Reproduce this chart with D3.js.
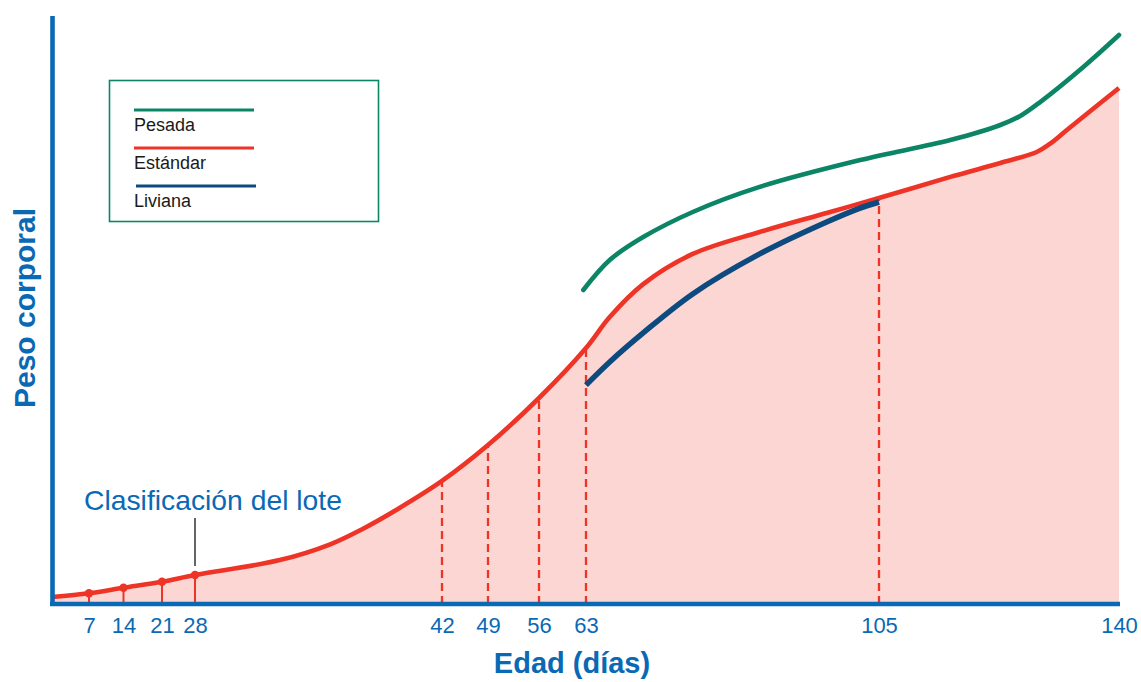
<!DOCTYPE html>
<html>
<head>
<meta charset="utf-8">
<script src="https://cdn.jsdelivr.net/npm/d3@7"></script>
<style>
  html, body { margin: 0; padding: 0; background: #fff; }
  svg { display: block; font-family: "Liberation Sans", Arial, Helvetica, sans-serif; }
</style>
</head>
<body>
<svg id="chart" width="1141" height="682"></svg>
<script>
// ---------- data ----------
const tickDays   = [7, 14, 21, 28, 42, 49, 56, 63, 105, 140];
const tickLabels = ["7", "14", "21", "28", "42", "49", "56", "63", "105", "140"];
const gradingDays = [7, 14, 21, 28];          // solid markers (clasificación)
const dashedDays  = [42, 49, 56, 63, 105];    // dashed guides

const seriesNames = ["Pesada", "Estándar", "Liviana"];

// Estándar (standard) body weight, g (estimated)
const standardDays   = [0, 7, 14, 21, 28, 32.8, 35.7, 37.5, 39.5, 42, 49, 56, 63, 66.4, 71.2, 78.3, 87.9, 97.5, 105, 115.4, 122.7, 128, 129.9, 132.4, 140];
const standardWeight = [36, 55, 83, 114, 148, 224, 306, 383, 485, 628, 811, 1051, 1306, 1464, 1632, 1786, 1898, 1995, 2071, 2179, 2250, 2306, 2347, 2418, 2633];

// Pesada (heavy)
const heavyDays   = [62.6, 66.4, 71.2, 78.3, 87.9, 102.3, 115.4, 122.7, 125.6, 128.5, 134.8, 140];
const heavyWeight = [1602, 1755, 1872, 2000, 2128, 2265, 2367, 2444, 2490, 2561, 2740, 2903];

// Liviana (light)
const lightDays   = [63, 66.4, 71.2, 78.3, 87.9, 97.5, 102.3, 105];
const lightWeight = [1117, 1235, 1383, 1582, 1786, 1949, 2020, 2051];

// ---------- styling ----------
const C = {
  axis: "#0a69b4",
  red: "#ee3427",
  green: "#0b8566",
  blue: "#0c4a80",
  fill: "#fbd6d3",
  text: "#1a1a1a"
};

const svg = d3.select("#chart");

// Non-uniform (piecewise linear) age axis, as in the original figure
const x = d3.scaleLinear()
  .domain([0, 7, 14, 21, 28, 42, 49, 56, 63, 105, 140])
  .range([52, 89, 123.5, 162, 195, 442, 488, 539, 586, 879, 1119]);

const y = d3.scaleLinear().domain([0, 3000]).range([604, 16]);

const zip = (ds, ws) => ds.map((d, i) => ({ d, w: ws[i] }));
const standard = zip(standardDays, standardWeight);
const heavy = zip(heavyDays, heavyWeight);
const light = zip(lightDays, lightWeight);
const stdAt = day => standardWeight[standardDays.indexOf(day)];

const curve = d3.curveCatmullRom.alpha(0.5);
const line = d3.line().x(p => x(p.d)).y(p => y(p.w)).curve(curve);
const area = d3.area().x(p => x(p.d)).y0(y(0)).y1(p => y(p.w)).curve(curve);

// fill under standard curve
svg.append("path").datum(standard).attr("d", area).attr("fill", C.fill);

// dashed guides
svg.append("g").selectAll("line").data(dashedDays).join("line")
  .attr("x1", d => x(d)).attr("x2", d => x(d))
  .attr("y1", y(0)).attr("y2", d => y(stdAt(d)))
  .attr("stroke", C.red).attr("stroke-width", 2.3)
  .attr("stroke-dasharray", "8,5");

// grading markers
svg.append("g").selectAll("line").data(gradingDays).join("line")
  .attr("x1", d => x(d)).attr("x2", d => x(d))
  .attr("y1", y(0)).attr("y2", d => y(stdAt(d)))
  .attr("stroke", C.red).attr("stroke-width", 2);

// series lines
svg.append("path").datum(standard).attr("d", line)
  .attr("fill", "none").attr("stroke", C.red).attr("stroke-width", 4.6);
svg.append("path").datum(heavy).attr("d", line)
  .attr("fill", "none").attr("stroke", C.green).attr("stroke-width", 4.6)
  .attr("stroke-linecap", "round");
svg.append("path").datum(light).attr("d", line)
  .attr("fill", "none").attr("stroke", C.blue).attr("stroke-width", 5.5);

svg.append("g").selectAll("circle").data(gradingDays).join("circle")
  .attr("cx", d => x(d)).attr("cy", d => y(stdAt(d))).attr("r", 4.2)
  .attr("fill", C.red);

// annotation
svg.append("line")
  .attr("x1", x(28)).attr("x2", x(28))
  .attr("y1", y(stdAt(28)) - 9).attr("y2", y(stdAt(28)) - 57)
  .attr("stroke", "#111").attr("stroke-width", 1.3);
svg.append("text")
  .attr("x", 84).attr("y", 510)
  .attr("fill", C.axis).attr("font-size", 28.3)
  .text("Clasificación del lote");

// axes
const xAxis = d3.axisBottom(x).tickValues(tickDays)
  .tickFormat((d, i) => tickLabels[i]).tickSize(0).tickPadding(13);
const gx = svg.append("g").attr("transform", `translate(0,${y(0)})`).call(xAxis);
gx.select(".domain").attr("stroke", C.axis).attr("stroke-width", 4.6)
  .attr("d", `M50,0H${x(140) + 1}`);
gx.selectAll(".tick text").attr("fill", C.axis).attr("font-size", 22)
  .attr("font-family", '"Liberation Sans", Arial, sans-serif');

const yAxis = d3.axisLeft(y).tickValues([]).tickSizeOuter(0);
const gy = svg.append("g").attr("transform", "translate(52.5,0)").call(yAxis);
gy.select(".domain").attr("stroke", C.axis).attr("stroke-width", 4.6)
  .attr("d", `M0,${y(0) + 2}V${y(3000)}`);

// axis titles
svg.append("text")
  .attr("x", 572).attr("y", 673).attr("text-anchor", "middle")
  .attr("fill", C.axis).attr("font-size", 29).attr("font-weight", "bold")
  .text("Edad (días)");
svg.append("text")
  .attr("transform", "translate(35,308) rotate(-90)")
  .attr("text-anchor", "middle")
  .attr("fill", C.axis).attr("font-size", 30).attr("font-weight", "bold")
  .text("Peso corporal");

// legend
const legend = svg.append("g");
legend.append("rect")
  .attr("x", 109.5).attr("y", 80.5).attr("width", 269).attr("height", 141)
  .attr("fill", "#fff").attr("stroke", C.green).attr("stroke-width", 1.6);
const legColors = [C.green, C.red, C.blue];
const li = legend.selectAll("g.item").data(seriesNames).join("g")
  .attr("class", "item")
  .attr("transform", (d, i) => `translate(0,${110 + i * 38})`);
li.append("line")
  .attr("x1", (d, i) => i === 2 ? 136 : 134).attr("x2", (d, i) => i === 2 ? 256 : 254)
  .attr("y1", 0).attr("y2", 0)
  .attr("stroke", (d, i) => legColors[i]).attr("stroke-width", 3.2);
li.append("text")
  .attr("x", 134).attr("y", 21)
  .attr("fill", C.text).attr("font-size", 18)
  .text(d => d);
</script>
</body>
</html>
